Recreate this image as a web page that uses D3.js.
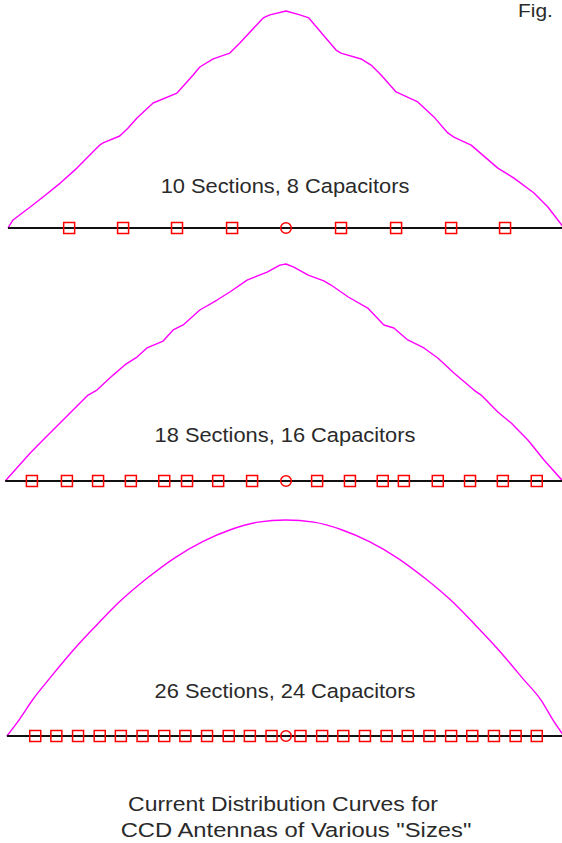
<!DOCTYPE html>
<html>
<head>
<meta charset="utf-8">
<script src="https://cdn.jsdelivr.net/npm/d3@7"></script>
<style>
  html, body { margin: 0; padding: 0; background: #fff; }
  svg { display: block; }
  text { font-family: "Liberation Sans", Arial, sans-serif; fill: #2a2a2a; }
</style>
</head>
<body>
<div id="container"></div>
<script>
// position along the antenna (0-100 %) and relative current (0-100 %)
var curve10 = [[0,0],[0.9,3.7],[4.0,9.7],[6.3,14.3],[9.4,20.7],[12.4,27.6],[16.5,38.2],[17.1,39.2],
	[20.1,42.4],[21.6,46.1],[23.2,50.7],[26.1,57.6],[30.4,62.2],[33.3,70.5],[34.5,74.2],[36.9,77.9],
	[39.9,80.6],[41.7,85.3],[45.9,96.8],[47.1,98.2],[50,100],[52.5,98.2],[54.1,96.8],[59.0,82.0],
	[59.9,80.6],[63.5,77.9],[65.3,75.1],[67.1,70.5],[69.8,62.7],[73.7,58.1],[76.6,51.2],[79.1,43.8],
	[80.2,41.9],[83.3,38.2],[88.1,27.6],[91.0,23.0],[94.6,16.1],[97.1,9.7],[98.9,3.7],[100,0]];

var curve18 = [[-0.5,0],[4.0,12.9],[6.3,18.9],[9.0,25.8],[11.7,32.7],[14.4,39.6],[16.0,41.9],[18.9,48.8],
	[21.0,53.5],[23.2,57.1],[25.0,61.3],[27.9,64.5],[29.7,69.6],[31.5,71.9],[34.5,78.8],[37.6,83.4],
	[39.9,87.1],[43.0,92.6],[46.6,96.3],[48.9,99.5],[50,100],[51.4,98.6],[54.0,94.9],[56.8,92.2],
	[58.1,90.3],[61.2,84.8],[64.7,79.7],[67.6,71.9],[69.4,70.5],[71.9,65.0],[74.8,61.3],[77.3,56.7],
	[80.2,49.8],[83.8,41.9],[85.1,39.6],[88.1,31.8],[90.5,26.7],[93.5,18.9],[96.4,9.7],[99.6,0.5],[100,0]];

var curve26 = [[-0.2,0],[2,7.5],[4.5,17],[7.6,27],[12,40.5],[16,51.5],[20,62],[25,73],[30,82.5],
	[35,90],[40,95.5],[45,99],[50,100],[55,99],[60,95.5],[65,90],[70,82.5],[75,73],[80,62],
	[84,51.5],[88,40.5],[92.8,26],[95.9,16.5],[98,7.5],[100,0]];

// capacitor positions (% along antenna); the centre feed is drawn as a circle
var caps10 = [11.0, 20.7, 30.4, 40.3, 59.9, 69.8, 79.7, 89.4];
var caps18 = [4.3, 10.6, 16.2, 22.1, 28.1, 32.2, 37.8, 43.9, 55.6, 61.5, 67.4, 71.2, 77.3, 83.1, 89.0, 95.1];
var caps26 = [4.9, 8.7, 12.6, 16.5, 20.3, 24.2, 28.1, 31.9, 35.8, 39.7, 43.5, 47.4,
	52.6, 56.5, 60.3, 64.2, 68.1, 71.9, 75.8, 79.7, 83.5, 87.4, 91.3, 95.1];
var feed = 50;

var labels = ["10 Sections, 8 Capacitors", "18 Sections, 16 Capacitors", "26 Sections, 24 Capacitors"];
var caption = ["Current Distribution Curves for", "CCD Antennas of Various \"Sizes\""];

var width = 562, height = 843;

var svg = d3.select("#container").append("svg")
	.attr("width", width)
	.attr("height", height);

var x = d3.scaleLinear().domain([0, 100]).range([8, 564]);

// baseline / peak pixel rows for each panel
var panels = [
	{curve: curve10, caps: caps10, label: labels[0], base: 228, peak: 11, ty: 193, smooth: d3.curveLinear},
	{curve: curve18, caps: caps18, label: labels[1], base: 481, peak: 264, ty: 442, smooth: d3.curveLinear},
	{curve: curve26, caps: caps26, label: labels[2], base: 736, peak: 520, ty: 698, smooth: d3.curveMonotoneX}
];

panels.forEach(function(p) {
	var y = d3.scaleLinear().domain([0, 100]).range([p.base, p.peak]);
	var g = svg.append("g");

	var line = d3.line()
		.x(function(d) { return x(d[0]); })
		.y(function(d) { return y(d[1]); })
		.curve(p.smooth);

	g.append("path")
		.datum(p.curve)
		.attr("d", line)
		.attr("fill", "none")
		.attr("stroke", "#ff00ff")
		.attr("stroke-width", 1.4)
		.attr("stroke-linejoin", "round");

	g.append("line")
		.attr("x1", x(p.curve[0][0]))
		.attr("x2", x(100))
		.attr("y1", y(0))
		.attr("y2", y(0))
		.attr("stroke", "#111")
		.attr("stroke-width", 1.8);

	g.selectAll("rect.cap")
		.data(p.caps)
		.enter().append("rect")
		.attr("class", "cap")
		.attr("x", function(d) { return x(d) - 5.5; })
		.attr("y", y(0) - 5.5)
		.attr("width", 11)
		.attr("height", 11)
		.attr("fill", "none")
		.attr("stroke", "#ff0000")
		.attr("stroke-width", 1.5);

	g.append("circle")
		.attr("cx", x(feed))
		.attr("cy", y(0))
		.attr("r", 5.3)
		.attr("fill", "none")
		.attr("stroke", "#ff0000")
		.attr("stroke-width", 1.5);

	g.append("text")
		.attr("transform", "translate(" + 285 + "," + p.ty + ") scale(1.12,1)")
		.attr("text-anchor", "middle")
		.style("font-size", "19.5px")
		.text(p.label);
});

svg.append("text")
	.attr("transform", "translate(518,17) scale(1.1,1)")
	.style("font-size", "19px")
	.text("Fig.");

svg.selectAll("text.caption")
	.data(caption)
	.enter().append("text")
	.attr("class", "caption")
	.attr("transform", function(d, i) { return "translate(" + (i ? 296 : 283) + "," + (811 + i * 26) + ") scale(" + (i ? 1.16 : 1.12) + ",1)"; })
	.attr("text-anchor", "middle")
	.style("font-size", "20.5px")
	.text(function(d) { return d; });
</script>
</body>
</html>
